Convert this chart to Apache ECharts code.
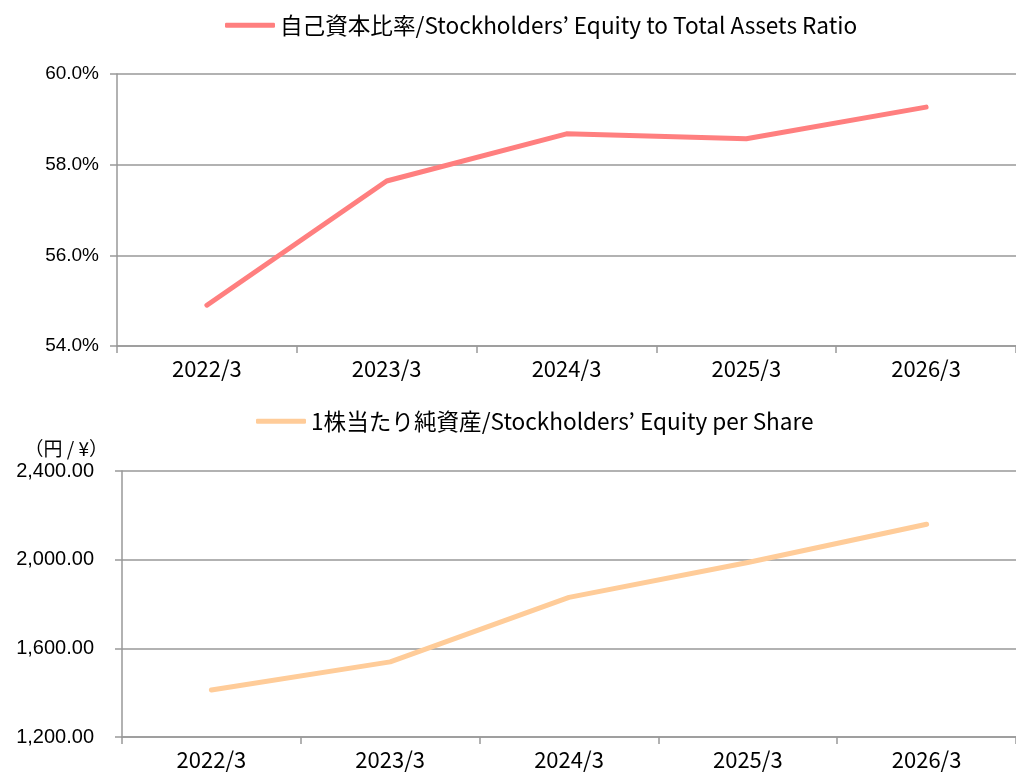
<!DOCTYPE html>
<html>
<head>
<meta charset="utf-8">
<script src="https://cdn.jsdelivr.net/npm/echarts@6/dist/echarts.min.js"></script>
<style>
  html, body { margin: 0; padding: 0; background: #fff; }
  #main { width: 1016px; height: 776px; }
</style>
</head>
<body>
<div id="main"></div>
<script>
// 決算期
var periods = ['2022/3', '2023/3', '2024/3', '2025/3', '2026/3'];
// 自己資本比率 (%)
var equityRatio = [54.90, 57.64, 58.68, 58.57, 59.27];
// 1株当たり純資産 (円)
var bps = [1412, 1539, 1830, 1987, 2160];

var ratioName = '自己資本比率/Stockholders\u2019 Equity to Total Assets Ratio';
var bpsName = '1株当たり純資産/Stockholders\u2019 Equity per Share';

var jpFont = '"Noto Sans CJK JP", sans-serif';
var numFont = '"Liberation Sans", Arial, sans-serif';
var gray = '#999999';

function fmtYen(v) {
  var s = v.toFixed(2).split('.');
  return s[0].replace(/\B(?=(\d{3})+(?!\d))/g, ',') + '.' + s[1];
}

var myChart = echarts.init(document.getElementById('main'));

var xCommon = {
  type: 'category',
  data: periods,
  boundaryGap: true,
  axisLine: { lineStyle: { color: gray, width: 1.5 } },
  axisTick: { show: true, length: 7, inside: false, lineStyle: { color: gray, width: 1.5 } },
  axisLabel: { color: '#000', fontSize: 22, fontFamily: jpFont, margin: 12 }
};

var option = {
  animation: false,
  legend: [
    {
      data: [ratioName],
      top: 9,
      left: 220,
      icon: 'roundRect',
      itemWidth: 50,
      itemHeight: 5,
      itemGap: 6,
      textStyle: { color: '#000', fontSize: 22.6, fontFamily: jpFont }
    },
    {
      data: [bpsName],
      top: 405,
      left: 251,
      icon: 'roundRect',
      itemWidth: 50,
      itemHeight: 5,
      textStyle: { color: '#000', fontSize: 22.6, fontFamily: jpFont }
    }
  ],
  grid: [
    { left: 117, right: 0, top: 74, height: 272 },
    { left: 122, right: 0, top: 471, height: 266 }
  ],
  xAxis: [
    Object.assign({ gridIndex: 0 }, xCommon),
    Object.assign({ gridIndex: 1 }, xCommon)
  ],
  yAxis: [
    {
      gridIndex: 0,
      type: 'value',
      min: 54,
      max: 60,
      interval: 2,
      axisLine: { show: true, lineStyle: { color: gray, width: 1.5 } },
      axisTick: { show: true, length: 7, lineStyle: { color: gray, width: 1.5 } },
      splitLine: { lineStyle: { color: gray, width: 1.5 } },
      axisLabel: {
        color: '#000', fontSize: 19, fontFamily: numFont, margin: 18,
        formatter: function (v) { return v.toFixed(1) + '%'; }
      }
    },
    {
      gridIndex: 1,
      type: 'value',
      min: 1200,
      max: 2400,
      interval: 400,
      name: '（円 / ¥）',
      nameLocation: 'end',
      nameGap: 13,
      nameTextStyle: { color: '#000', fontSize: 19, fontFamily: jpFont, align: 'right', padding: [0, 14, 0, 0] },
      axisLine: { show: true, lineStyle: { color: gray, width: 1.5 } },
      axisTick: { show: true, length: 7, lineStyle: { color: gray, width: 1.5 } },
      splitLine: { lineStyle: { color: gray, width: 1.5 } },
      axisLabel: {
        color: '#000', fontSize: 20, fontFamily: numFont, margin: 28,
        formatter: function (v) { return fmtYen(v); }
      }
    }
  ],
  series: [
    {
      name: ratioName,
      type: 'line',
      xAxisIndex: 0,
      yAxisIndex: 0,
      data: equityRatio,
      symbol: 'none',
      itemStyle: { color: '#FF7F7F' },
      lineStyle: { color: '#FF7F7F', width: 5, cap: 'round', join: 'round' }
    },
    {
      name: bpsName,
      type: 'line',
      xAxisIndex: 1,
      yAxisIndex: 1,
      data: bps,
      symbol: 'none',
      itemStyle: { color: '#FFCC99' },
      lineStyle: { color: '#FFCC99', width: 5, cap: 'round', join: 'round' }
    }
  ]
};

myChart.setOption(option);
</script>
</body>
</html>
